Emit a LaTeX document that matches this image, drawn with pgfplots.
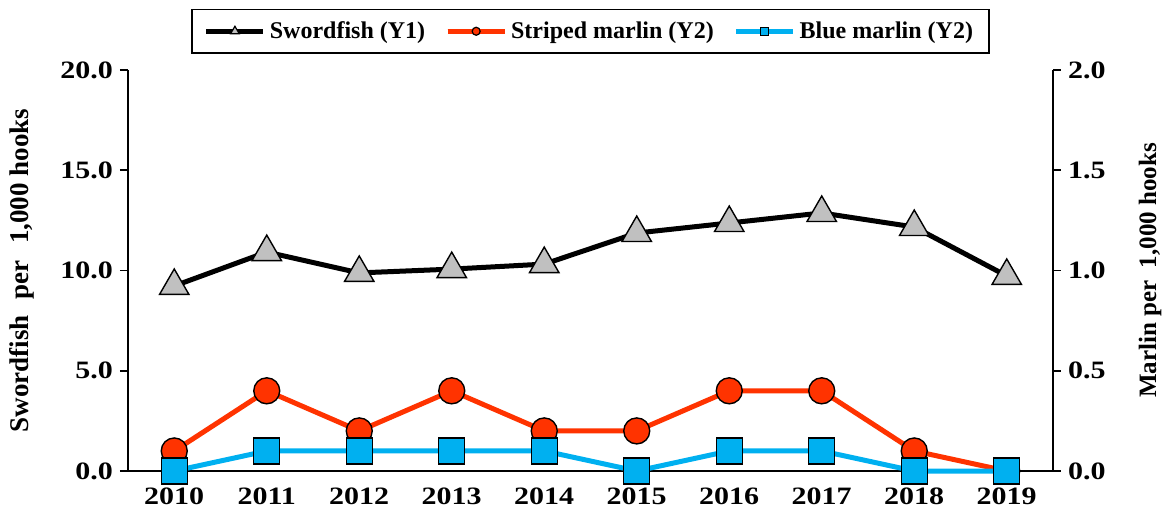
\documentclass[border=0pt]{standalone}
\usepackage{pgfplots}
\pgfplotsset{compat=1.18}
\usepackage{fontspec}
\setmainfont{Liberation Serif}
\newfontfamily\widefont[FakeStretch=1.2]{Liberation Serif}
\definecolor{sred}{RGB}{255,51,0}
\definecolor{bblue}{RGB}{0,176,240}
\definecolor{tgray}{RGB}{192,192,192}
\begin{document}
\begin{tikzpicture}
\useasboundingbox (-64pt,-20pt) rectangle (519.5pt,235.5pt);
\pgfplotsset{
  common/.style={
    scale only axis, width=462.5pt, height=200.5pt,
    at={(0,0)}, anchor=south west,
    xmin=-0.5, xmax=9.5,
    tick align=outside,
    major tick length=4pt, minor tick length=4pt,
    tick style={black, line width=0.8pt},
    axis line style={line width=0.8pt},
    ticklabel style={font=\widefont\bfseries\fontsize{12.5}{14}\selectfont},
    /pgf/number format/assume math mode=true,
    label style={font=\bfseries\fontsize{12.5}{14}\selectfont},
    clip=false,
  }
}
\begin{axis}[common,
  axis x line*=bottom, axis y line*=left,
  ymin=0, ymax=20, ytick={0,5,...,20},
  yticklabel style={/pgf/number format/.cd, fixed, fixed zerofill, precision=1},
  xtick={0,...,9},
  xticklabels={2010,2011,2012,2013,2014,2015,2016,2017,2018,2019},
  xtick style={draw=none},
  minor xtick={-0.5,0.5,...,9.5},
  xticklabel style={yshift=-1pt},
  ylabel={Swordfish\hspace{0.6em}per\hspace{0.6em}1,000 hooks},
  ylabel style={at={(axis description cs:0,0.5)}, anchor=center, yshift=53pt, font=\bfseries\fontsize{13.5}{15}\selectfont},
]
\addplot[black, line width=2.5pt, mark=triangle*, mark size=8.5pt,
  mark options={fill=tgray, draw=black, line width=0.7pt}]
  coordinates {(0,9.23) (1,10.92) (2,9.88) (3,10.07) (4,10.32) (5,11.87) (6,12.37) (7,12.87) (8,12.17) (9,9.73)};
\end{axis}
\begin{axis}[common,
  axis x line=none, axis y line*=right,
  ymin=0, ymax=2, ytick={0,0.5,...,2},
  yticklabel style={/pgf/number format/.cd, fixed, fixed zerofill, precision=1},
  ylabel={Marlin per\ \ 1,000 hooks},
  ylabel style={at={(axis description cs:1,0.5)}, anchor=center, yshift=-48.5pt},
  legend columns=3,
  legend style={at={(0.5,1)}, anchor=south, yshift=8pt,
    draw=black, line width=0.8pt, font=\bfseries\fontsize{12}{14}\selectfont,
    inner xsep=6pt, inner ysep=4pt,
    /tikz/every even column/.append style={column sep=8pt}},
  legend image code/.code={
    \draw[#1] (0cm,0cm) -- (1.0cm,0cm);
    \draw[#1, mark repeat=2, mark phase=2] plot coordinates {(0cm,0cm) (0.5cm,0cm) (1.0cm,0cm)};
  },
]
\addplot[sred, line width=2.5pt, mark=*, mark size=6.5pt,
  mark options={fill=sred, draw=black, line width=0.7pt}, forget plot]
  coordinates {(0,0.1) (1,0.4) (2,0.2) (3,0.4) (4,0.2) (5,0.2) (6,0.4) (7,0.4) (8,0.1) (9,0.0)};
\addplot[bblue, line width=2.5pt, mark=square*, mark size=6.5pt,
  mark options={fill=bblue, draw=black, line width=0.7pt}, forget plot]
  coordinates {(0,0) (1,0.1) (2,0.1) (3,0.1) (4,0.1) (5,0) (6,0.1) (7,0.1) (8,0) (9,0)};
\addlegendimage{black, line width=2.5pt, mark=triangle*, mark size=2.5pt, mark options={fill=tgray, draw=black, line width=0.6pt}}
\addlegendentry{Swordfish (Y1)}
\addlegendimage{sred, line width=2.5pt, mark=*, mark size=2pt, mark options={fill=sred, draw=black, line width=0.6pt}}
\addlegendentry{Striped marlin (Y2)}
\addlegendimage{bblue, line width=2.5pt, mark=square*, mark size=2pt, mark options={fill=bblue, draw=black, line width=0.6pt}}
\addlegendentry{Blue marlin (Y2)}
\end{axis}
\end{tikzpicture}
\end{document}
